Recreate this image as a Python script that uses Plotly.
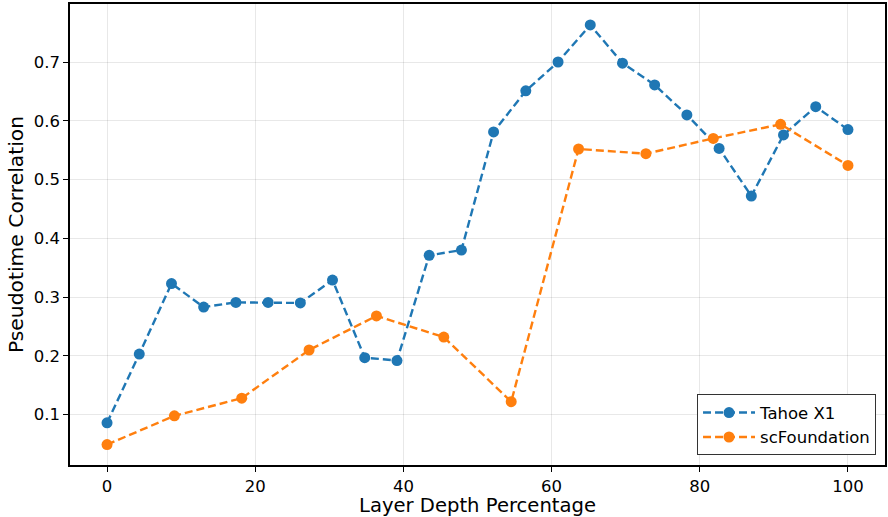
import plotly.graph_objects as go

tahoe_x = [0, 4.35, 8.70, 13.04, 17.39, 21.74, 26.09, 30.43, 34.78, 39.13, 43.48, 47.83,
           52.17, 56.52, 60.87, 65.22, 69.57, 73.91, 78.26, 82.61, 86.96, 91.30, 95.65, 100]
tahoe_y = [0.086, 0.203, 0.323, 0.283, 0.291, 0.291, 0.290, 0.329, 0.197, 0.192, 0.371, 0.380,
           0.581, 0.651, 0.700, 0.763, 0.698, 0.661, 0.610, 0.553, 0.472, 0.576, 0.624, 0.585]

scf_x = [0, 9.09, 18.18, 27.27, 36.36, 45.45, 54.55, 63.64, 72.73, 81.82, 90.91, 100]
scf_y = [0.049, 0.098, 0.128, 0.210, 0.268, 0.232, 0.122, 0.552, 0.544, 0.570, 0.594, 0.524]

x_ticks = [0, 20, 40, 60, 80, 100]
y_ticks = [0.1, 0.2, 0.3, 0.4, 0.5, 0.6, 0.7]

FONT = "DejaVu Sans"

fig = go.Figure()
fig.add_trace(go.Scatter(x=tahoe_x, y=tahoe_y, mode="lines+markers", name="Tahoe X1",
                         line=dict(color="#1f77b4", width=2.4, dash="8px,4px"),
                         marker=dict(color="#1f77b4", size=11)))
fig.add_trace(go.Scatter(x=scf_x, y=scf_y, mode="lines+markers", name="scFoundation",
                         line=dict(color="#ff7f0e", width=2.4, dash="8px,4px"),
                         marker=dict(color="#ff7f0e", size=11)))

axis_common = dict(showline=True, linecolor="black", linewidth=1.6, mirror=True,
                   ticks="outside", ticklen=5, tickwidth=1.3, tickcolor="black",
                   showgrid=True, gridcolor="rgba(0,0,0,0.09)", gridwidth=1,
                   zeroline=False, tickfont=dict(family=FONT, size=16.5, color="black"))

fig.update_xaxes(range=[-5, 105], tickvals=x_ticks,
                 title=dict(text="Layer Depth Percentage", font=dict(family=FONT, size=19.6, color="black"),
                            standoff=4),
                 **axis_common)
fig.update_yaxes(range=[0.0143, 0.7987], tickvals=y_ticks, tickformat=".1f",
                 title=dict(text="Pseudotime Correlation", font=dict(family=FONT, size=20.3, color="black"),
                            standoff=5),
                 **axis_common)

fig.update_layout(
    width=888, height=517,
    margin=dict(l=70, r=1, t=4, b=52),
    paper_bgcolor="white", plot_bgcolor="white",
    font=dict(family=FONT, color="black"),
    showlegend=True,
    legend=dict(x=0.989, y=0.021, xanchor="right", yanchor="bottom",
                bordercolor="#333333", borderwidth=1, bgcolor="white",
                font=dict(family=FONT, size=16.5, color="black"),
                itemwidth=52, tracegroupgap=2),
)

fig.write_html("out.html", config={"displayModeBar": False},
               post_script="document.body.style.margin='0px';document.body.style.overflow='hidden';")
